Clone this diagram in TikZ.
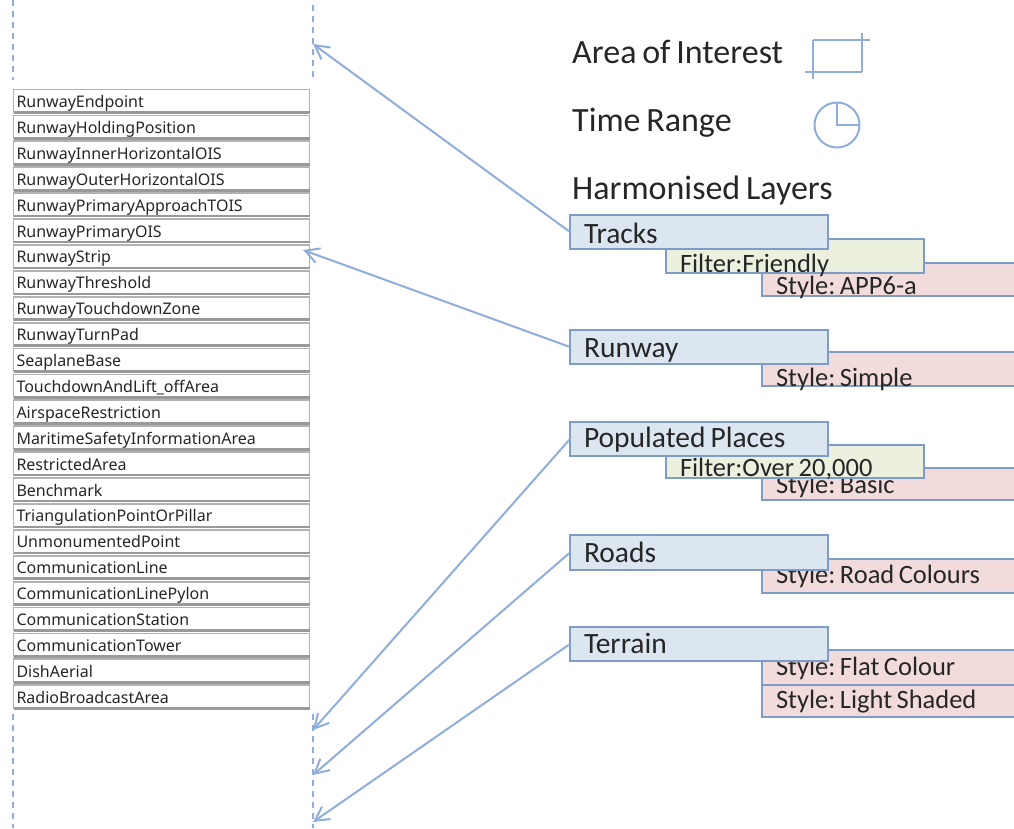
\documentclass[tikz,border=0pt]{standalone}
\usepackage{fontspec}
\setmainfont[WordSpace=0.75]{Carlito}
\newfontfamily\rowfont{Noto Sans}
\usetikzlibrary{arrows.meta}
\frenchspacing
\newcommand{\plainspace}{\spaceskip=0pt\relax}
\definecolor{layerblue}{HTML}{DCE6F1}
\definecolor{filtergreen}{HTML}{EBF1DE}
\definecolor{stylepink}{HTML}{F2DCDB}
\definecolor{edgeblue}{HTML}{7F9BC8}
\definecolor{linkblue}{HTML}{8FAEDB}
\definecolor{inkgrey}{HTML}{262626}
\tikzset{
	basebox/.style 2 args={draw=edgeblue,line width=1.8pt,anchor=north west,inner xsep=14pt,inner ysep=0pt,outer sep=0pt,
		text width=230pt,text height=#1,text depth=#2,text=inkgrey,font=\fontsize{26.5}{30}\selectfont,
		execute at begin node={\plainspace}},
	layerbox/.style 2 args={basebox={#1}{#2},fill=layerblue,font=\fontsize{29.5}{32}\selectfont},
	filterbox/.style 2 args={basebox={#1}{#2},fill=filtergreen},
	stylebox/.style 2 args={basebox={#1}{#2},fill=stylepink},
	headtext/.style={anchor=base west,inner sep=0pt,text=inkgrey,font=\fontsize{34}{36}\selectfont},
	listrow/.style={draw=gray!60,line width=1.8pt,anchor=north west,inner xsep=3pt,inner ysep=0pt,outer sep=0pt,
		text width=290pt,text height=18pt,text depth=5pt,text=inkgrey,font=\rowfont\fontsize{16}{18}\selectfont},
	rowshade/.style={draw=gray!80,line width=2.6pt},
	rangeline/.style={draw=linkblue,line width=1.6pt,dashed,dash pattern=on 6pt off 5pt},
	linkarrow/.style={draw=linkblue,line width=2pt,-{Straight Barb[length=14pt,width=15pt]}},
	iconline/.style={draw=linkblue,line width=2pt}
}
\begin{document}
\begin{tikzpicture}[x=1pt,y=-1pt]
		\useasboundingbox (0,0) rectangle (1014,828);
		\clip (0,0) rectangle (1014,828);
		
		% time lines
		\draw[rangeline] (13,0) -- (13,80);
		\draw[rangeline] (13,714) -- (13,828);
		\draw[rangeline] (313,5) -- (313,78);
		\draw[rangeline] (313,714) -- (313,828);
		
		% feature list
		\foreach \name [count=\i from 0] in {RunwayEndpoint,RunwayHoldingPosition,RunwayInnerHorizontalOIS,RunwayOuterHorizontalOIS,RunwayPrimaryApproachTOIS,RunwayPrimaryOIS,RunwayStrip,RunwayThreshold,RunwayTouchdownZone,RunwayTurnPad,SeaplaneBase,TouchdownAndLift\_offArea,AirspaceRestriction,MaritimeSafetyInformationArea,RestrictedArea,Benchmark,TriangulationPointOrPillar,UnmonumentedPoint,CommunicationLine,CommunicationLinePylon,CommunicationStation,CommunicationTower,DishAerial,RadioBroadcastArea}{
			\node[listrow] (row\i) at (13.5,{89.5+25.9*\i}) {\name};
			\draw[rowshade] (row\i.south west) -- (row\i.south east);
		}
		
		% legend
		\node[headtext] (aoi) at (572,63) {Area of Interest};
		\node[headtext] (timerange) at (572,131) {Time Range};
		\node[headtext] (harmonised) at (572,199) {Harmonised Layers};
		\draw[iconline] (813,40) -- (870,40);
		\draw[iconline] (862,33) -- (862,72);
		\draw[iconline] (805,72) -- (862,72);
		\draw[iconline] (813,40) -- (813,79);
		\draw[iconline] (837,125) circle (22.5);
		\draw[iconline] (837,103) -- (837,125) -- (859.5,125);
		
		% layers, back to front
		\node[stylebox={31pt}{2pt}] (app) at (762,263) {Style: APP6-a};
		\node[filterbox={33pt}{1pt}] (friendly) at (666,239) {Filter:Friendly};
		\node[layerbox={28pt}{6pt}] (tracks) at (570,215) {Tracks};
		
		\node[stylebox={34pt}{0pt}] (simple) at (762,352) {Style: Simple};
		\node[layerbox={27pt}{7pt}] (runway) at (570,330) {Runway};
		
		\node[stylebox={25pt}{7pt}] (basic) at (762,468) {Style: Basic};
		\node[filterbox={31pt}{2pt}] (over) at (666,445) {Filter:Over 20,000};
		\node[layerbox={25pt}{9pt}] (places) at (570,422) {Populated Places};
		
		\node[stylebox={24pt}{10pt}] (colours) at (762,559) {Style: Road Colours};
		\node[layerbox={27pt}{8pt}] (roads) at (570,535) {Roads};
		
		\node[stylebox={25pt}{10pt}] (flat) at (762,650) {Style: Flat Colour};
		\node[stylebox={23pt}{9pt}] (shaded) at (762,685) {Style: Light Shaded};
		\node[layerbox={26pt}{8pt}] (terrain) at (570,627) {Terrain};
		
		% links
		\coordinate (tracksend) at (313,44);
		\coordinate (runwayend) at (303,250);
		\coordinate (placesend) at (313,730);
		\coordinate (roadsend) at (313,775);
		\coordinate (terrainend) at (313,822);
		\draw[linkarrow] (tracks.west) -- (tracksend);
		\draw[linkarrow] (runway.west) -- (runwayend);
		\draw[linkarrow] (places.west) -- (placesend);
		\draw[linkarrow] (roads.west) -- (roadsend);
		\draw[linkarrow] (terrain.west) -- (terrainend);
	\end{tikzpicture}
\end{document}
